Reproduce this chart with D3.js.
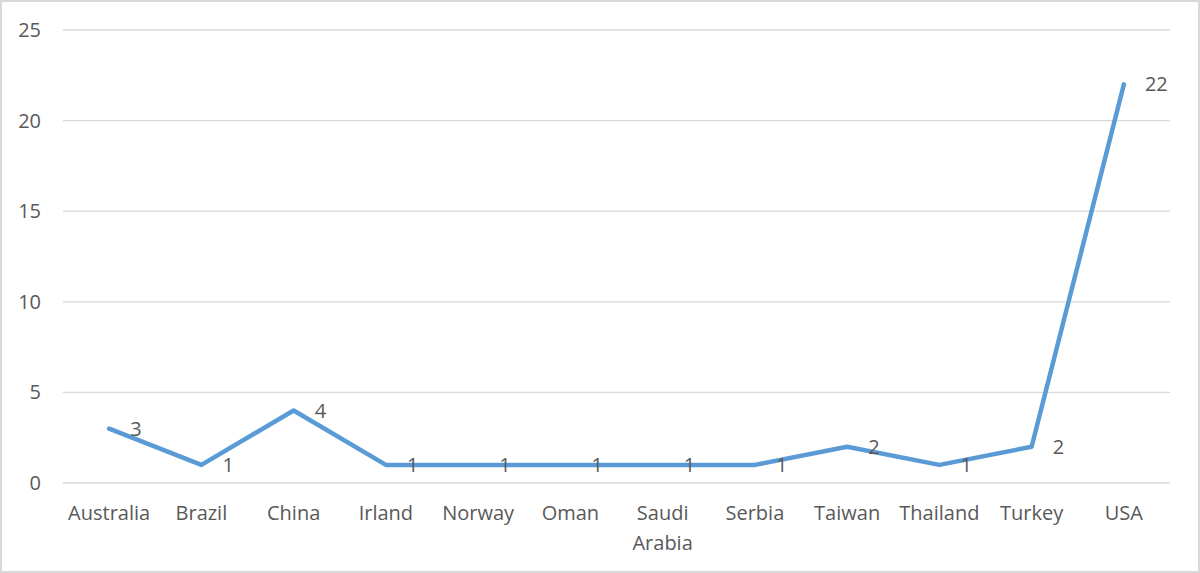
<!DOCTYPE html>
<html>
<head>
<meta charset="utf-8">
<script src="https://cdn.jsdelivr.net/npm/d3@7"></script>
<style>
  body { margin: 0; background: #fff; }
  svg { display: block; font-family: "Open Sans", "Noto Sans", sans-serif; }
</style>
</head>
<body>
<svg id="chart" width="1200" height="573"></svg>
<script>
// data
const countries = ["Australia", "Brazil", "China", "Irland", "Norway", "Oman",
  "Saudi Arabia", "Serbia", "Taiwan", "Thailand", "Turkey", "USA"];
const counts = [3, 1, 4, 1, 1, 1, 1, 1, 2, 1, 2, 22];
const yTicks = [0, 5, 10, 15, 20, 25];

const svg = d3.select('#chart');
const width = 1200, height = 573;
const margin = { top: 30, right: 30, bottom: 90, left: 63 };

// chart border
svg.append('rect')
  .attr('x', 1).attr('y', 1)
  .attr('width', width - 2).attr('height', height - 2)
  .attr('fill', '#fff')
  .attr('stroke', '#d9d9d9')
  .attr('stroke-width', 2);

const x = d3.scaleBand()
  .domain(countries)
  .range([margin.left, width - margin.right]);

const y = d3.scaleLinear()
  .domain([0, 25])
  .range([height - margin.bottom, margin.top]);

// gridlines
svg.append('g')
  .selectAll('line')
  .data(yTicks)
  .enter()
  .append('line')
  .attr('x1', margin.left)
  .attr('x2', width - margin.right)
  .attr('y1', d => y(d))
  .attr('y2', d => y(d))
  .style('stroke', '#d9d9d9')
  .style('stroke-width', 1.3);

// y axis labels
const yAxis = svg.append('g')
  .attr('transform', `translate(${margin.left - 22},0)`)
  .call(d3.axisLeft(y).tickValues(yTicks).tickSize(0).tickPadding(0));
yAxis.select('.domain').remove();
yAxis.selectAll('text')
  .style('font-size', '20px')
  .style('fill', '#595959')
  .style('font-family', '"Open Sans", sans-serif');

// x axis labels
const xAxis = svg.append('g')
  .attr('transform', `translate(0,${y(0)})`)
  .call(d3.axisBottom(x).tickSize(0).tickPadding(0));
xAxis.select('.domain').remove();
xAxis.selectAll('text').remove();
xAxis.selectAll('.tick').each(function(d) {
  const t = d3.select(this).append('text')
    .attr('text-anchor', 'middle')
    .style('font-size', '20px')
    .style('fill', '#595959')
    .style('font-family', '"Open Sans", sans-serif');
  const words = d === 'Saudi Arabia' ? ['Saudi', 'Arabia'] : [d];
  words.forEach((w, i) => {
    t.append('tspan')
      .attr('x', 0)
      .attr('y', 37 + i * 30)
      .text(w);
  });
});

// line
const line = d3.line()
  .x((d, i) => x(countries[i]) + x.bandwidth() / 2)
  .y(d => y(d));

svg.append('path')
  .datum(counts)
  .attr('d', line)
  .attr('fill', 'none')
  .style('stroke', '#5b9bd5')
  .style('stroke-width', 4.5)
  .style('stroke-linejoin', 'round')
  .style('stroke-linecap', 'round');

// data labels
svg.append('g')
  .selectAll('text')
  .data(counts)
  .enter()
  .append('text')
  .attr('x', (d, i) => x(countries[i]) + x.bandwidth() / 2 + 21)
  .attr('y', d => y(d))
  .attr('dy', '0.35em')
  .style('font-size', '20px')
  .style('fill', '#595959')
  .text(d => d);
</script>
</body>
</html>
